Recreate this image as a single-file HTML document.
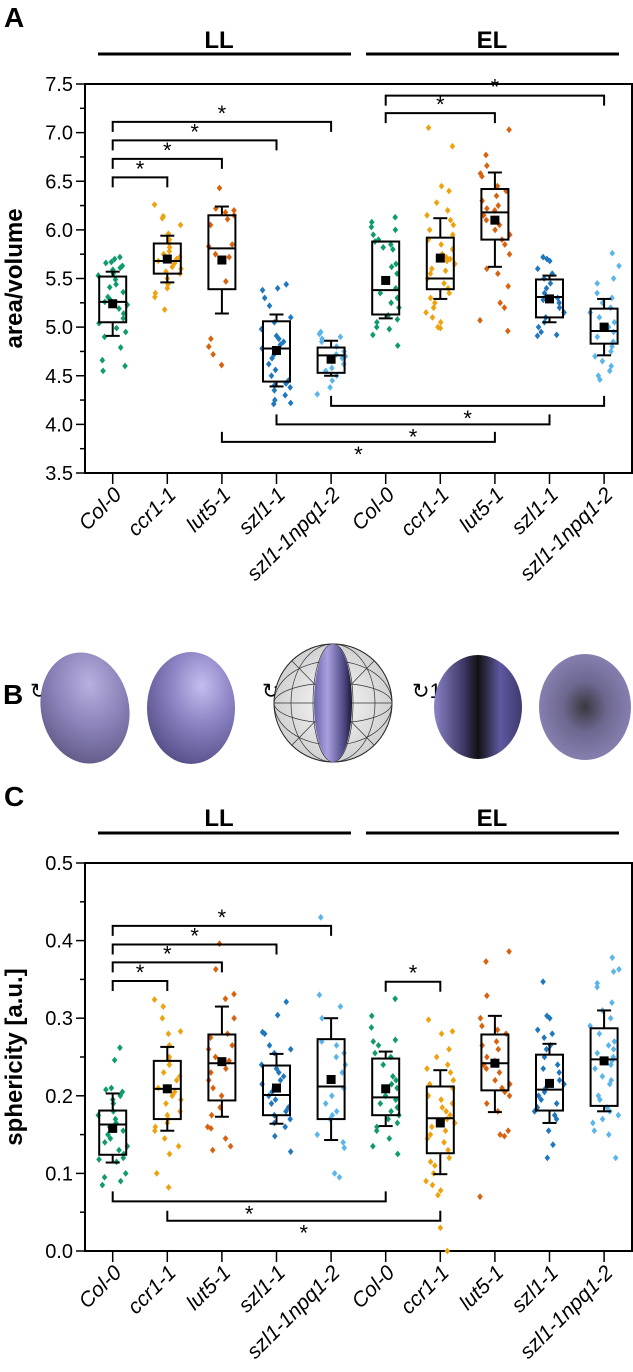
<!DOCTYPE html>
<html><head><meta charset="utf-8"><style>
html,body{margin:0;padding:0;background:#fff;}
svg{display:block;font-family:"Liberation Sans",Arial,sans-serif;}
</style></head><body>
<svg id="fig" width="633" height="1372" viewBox="0 0 633 1372" xmlns="http://www.w3.org/2000/svg">
<defs>
<radialGradient id="gSmooth" cx="0.62" cy="0.3" r="0.8">
<stop offset="0" stop-color="#c4bdf0"/><stop offset="0.45" stop-color="#8a82c2"/><stop offset="1" stop-color="#4e4880"/></radialGradient>
<radialGradient id="gRough" cx="0.6" cy="0.3" r="0.8">
<stop offset="0" stop-color="#b8b0e0"/><stop offset="0.5" stop-color="#8a82b8"/><stop offset="1" stop-color="#5a5480"/></radialGradient>
<linearGradient id="gDark" x1="0" x2="1" y1="0" y2="0">
<stop offset="0" stop-color="#8a82c8"/><stop offset="0.35" stop-color="#3a3660"/><stop offset="0.5" stop-color="#111"/><stop offset="0.75" stop-color="#5e58a0"/><stop offset="1" stop-color="#40396e"/></linearGradient>
<radialGradient id="gRough2" cx="0.5" cy="0.5" r="0.6">
<stop offset="0" stop-color="#3a3840"/><stop offset="0.4" stop-color="#6d6890"/><stop offset="1" stop-color="#8f88bb"/></radialGradient>
<radialGradient id="gSphere" cx="0.5" cy="0.5" r="0.6">
<stop offset="0" stop-color="#fafafa"/><stop offset="1" stop-color="#c8c8c8"/></radialGradient>
<linearGradient id="gBand" x1="0" x2="1">
<stop offset="0" stop-color="#6a63a8"/><stop offset="0.35" stop-color="#a9a0e0"/><stop offset="0.8" stop-color="#4b4680"/><stop offset="1" stop-color="#1a1830"/></linearGradient>
</defs>

<text x="4" y="27" font-size="28" font-weight="bold">A</text>
<text x="219" y="48" font-size="24" font-weight="bold" text-anchor="middle">LL</text>
<line x1="98" y1="54" x2="351" y2="54" stroke="#000" stroke-width="3"/>
<text x="492" y="48" font-size="24" font-weight="bold" text-anchor="middle">EL</text>
<line x1="366" y1="54" x2="619" y2="54" stroke="#000" stroke-width="3"/>
<g id="chartA"></g>

<g>
<text x="3" y="704" font-size="28" font-weight="bold">B</text>
<text x="30" y="698" font-size="21">↻45°</text>
<text x="262" y="698" font-size="21">↻90°</text>
<text x="412" y="698" font-size="21">↻135°</text>
<ellipse cx="85" cy="708" rx="44" ry="56" fill="url(#gRough)" transform="rotate(-12 85 708)"/>
<ellipse cx="191" cy="708" rx="44" ry="56" fill="url(#gSmooth)"/>
<g>
<circle cx="333" cy="703" r="59" fill="url(#gSphere)" stroke="#222" stroke-width="1"/>
<g stroke="#333" stroke-width="0.7" fill="none">
<ellipse cx="333" cy="703" rx="59" ry="20"/><ellipse cx="333" cy="703" rx="59" ry="42"/>
<ellipse cx="333" cy="703" rx="20" ry="59"/><ellipse cx="333" cy="703" rx="42" ry="59"/>
<line x1="274" y1="703" x2="392" y2="703"/><line x1="292" y1="661" x2="374" y2="745"/><line x1="292" y1="745" x2="374" y2="661"/>
</g>
<ellipse cx="333" cy="703" rx="19" ry="59" fill="url(#gBand)"/>
</g>
<ellipse cx="478" cy="707" rx="44" ry="52" fill="url(#gDark)"/>
<ellipse cx="585" cy="707" rx="46" ry="53" fill="url(#gRough2)"/>
</g>

<text x="4" y="806" font-size="28" font-weight="bold">C</text>
<text x="219" y="826" font-size="24" font-weight="bold" text-anchor="middle">LL</text>
<line x1="98" y1="833" x2="351" y2="833" stroke="#000" stroke-width="3"/>
<text x="492" y="826" font-size="24" font-weight="bold" text-anchor="middle">EL</text>
<line x1="366" y1="833" x2="619" y2="833" stroke="#000" stroke-width="3"/>
<g id="chartC"></g>
</svg>
<script>
const categories = ["Col-0","ccr1-1","lut5-1","szl1-1","szl1-1npq1-2","Col-0","ccr1-1","lut5-1","szl1-1","szl1-1npq1-2"];
const groupColors = ["#0f9b6e","#eea20d","#d9620f","#1f78bd","#5ab6ea","#0f9b6e","#eea20d","#d9620f","#1f78bd","#5ab6ea"];

const aTicks = [3.5,4.0,4.5,5.0,5.5,6.0,6.5,7.0,7.5];
const aTickLabels = ["3.5","4.0","4.5","5.0","5.5","6.0","6.5","7.0","7.5"];
const aBoxLow = [5.05,5.55,5.39,4.44,4.53,5.13,5.39,5.90,5.10,4.83];
const aBoxHigh = [5.52,5.86,6.15,5.06,4.79,5.88,5.92,6.42,5.49,5.19];
const aMedian = [5.26,5.68,5.81,4.78,4.71,5.38,5.50,6.18,5.31,4.96];
const aMean = [5.24,5.70,5.69,4.76,4.67,5.48,5.71,6.10,5.29,5.00];
const aWhiskLow = [4.91,5.46,5.14,4.39,4.50,5.09,5.29,5.62,5.05,4.71];
const aWhiskHigh = [5.57,5.94,6.24,5.13,4.86,5.88,6.12,6.59,5.53,5.29];
const aPoints = [
[5.72,5.70,5.67,5.66,5.63,5.61,5.59,5.57,5.55,5.53,5.49,5.44,5.41,5.36,5.31,5.28,5.26,5.23,5.19,5.14,5.09,5.04,4.99,4.95,4.90,4.79,4.66,4.60,4.55],
[6.26,6.14,6.12,6.05,5.96,5.90,5.86,5.82,5.78,5.75,5.72,5.70,5.68,5.66,5.62,5.60,5.57,5.55,5.50,5.44,5.40,5.35,5.31,5.18],
[6.43,6.22,6.20,6.18,6.15,6.11,6.05,5.85,5.83,5.75,5.72,5.47,4.88,4.80,4.72,4.61],
[5.44,5.40,5.38,5.30,5.22,5.10,5.05,4.98,4.91,4.88,4.85,4.82,4.78,4.72,4.68,4.62,4.56,4.50,4.45,4.42,4.40,4.38,4.35,4.30,4.25,4.22,4.21],
[4.95,4.93,4.90,4.88,4.85,4.80,4.75,4.72,4.70,4.68,4.65,4.62,4.58,4.55,4.50,4.45,4.38,4.31],
[6.13,6.08,6.03,6.00,5.95,5.90,5.88,5.85,5.82,5.80,5.65,5.62,5.55,5.48,5.40,5.35,5.30,5.25,5.20,5.12,5.08,5.05,5.00,4.98,4.92,4.81],
[7.05,6.86,6.45,6.40,6.28,6.20,6.15,6.10,6.05,6.00,5.95,5.90,5.85,5.80,5.75,5.72,5.70,5.68,5.65,5.60,5.58,5.55,5.50,5.45,5.40,5.35,5.30,5.25,5.20,5.15,5.10,5.05,5.00,4.99],
[7.03,6.77,6.66,6.58,6.55,6.45,6.40,6.35,6.30,6.25,6.22,6.20,6.15,6.10,6.05,6.00,5.95,5.90,5.85,5.75,5.60,5.55,5.42,5.25,5.20,5.07,4.96],
[5.72,5.70,5.68,5.60,5.55,5.50,5.45,5.40,5.35,5.30,5.28,5.25,5.20,5.15,5.10,5.05,5.00,4.95,4.92,4.91],
[5.76,5.63,5.50,5.45,5.35,5.30,5.25,5.20,5.15,5.10,5.05,5.00,4.95,4.90,4.85,4.80,4.75,4.70,4.65,4.60,4.55,4.50,4.46]
];
const aBrackets = [[0,1,6.54,1],[0,2,6.73,1],[0,3,6.92,1],[0,4,7.11,1],[5,7,7.20,1],[5,9,7.38,1],[4,9,4.19,-1],[3,8,4.00,-1],[2,7,3.82,-1]];

const cTicks = [0.0,0.1,0.2,0.3,0.4,0.5];
const cTickLabels = ["0.0","0.1","0.2","0.3","0.4","0.5"];
const cBoxLow = [0.124,0.170,0.194,0.175,0.170,0.175,0.126,0.207,0.181,0.187];
const cBoxHigh = [0.181,0.245,0.279,0.239,0.273,0.248,0.212,0.279,0.253,0.287];
const cMedian = [0.163,0.209,0.242,0.201,0.212,0.198,0.171,0.242,0.208,0.247];
const cMean = [0.158,0.209,0.244,0.210,0.221,0.209,0.165,0.242,0.216,0.245];
const cWhiskLow = [0.114,0.155,0.173,0.164,0.143,0.161,0.099,0.179,0.165,0.180];
const cWhiskHigh = [0.203,0.263,0.315,0.254,0.300,0.257,0.233,0.303,0.267,0.310];
const cPoints = [
[0.262,0.246,0.21,0.208,0.205,0.20,0.195,0.19,0.18,0.175,0.17,0.165,0.16,0.155,0.15,0.145,0.14,0.135,0.13,0.125,0.12,0.118,0.115,0.10,0.095,0.09,0.085],
[0.324,0.315,0.30,0.283,0.28,0.265,0.25,0.245,0.24,0.23,0.225,0.22,0.21,0.205,0.20,0.195,0.19,0.18,0.175,0.17,0.165,0.16,0.155,0.145,0.135,0.125,0.10,0.082],
[0.396,0.363,0.331,0.325,0.30,0.28,0.275,0.265,0.26,0.25,0.245,0.235,0.23,0.22,0.21,0.20,0.185,0.175,0.16,0.158,0.145,0.135,0.13],
[0.321,0.304,0.282,0.28,0.265,0.26,0.255,0.24,0.235,0.23,0.225,0.22,0.215,0.21,0.205,0.20,0.195,0.19,0.185,0.18,0.175,0.17,0.165,0.16,0.148,0.128],
[0.43,0.33,0.315,0.30,0.27,0.265,0.255,0.25,0.24,0.23,0.22,0.21,0.20,0.19,0.18,0.175,0.17,0.15,0.14,0.133,0.10,0.095],
[0.325,0.303,0.288,0.272,0.27,0.265,0.255,0.25,0.24,0.225,0.22,0.215,0.21,0.20,0.195,0.19,0.185,0.18,0.175,0.17,0.165,0.16,0.155,0.145,0.135,0.125],
[0.298,0.283,0.28,0.26,0.25,0.24,0.235,0.23,0.22,0.215,0.21,0.20,0.195,0.19,0.185,0.18,0.175,0.17,0.165,0.16,0.155,0.15,0.145,0.14,0.13,0.12,0.115,0.11,0.10,0.09,0.085,0.078,0.072,0.03,0.0],
[0.386,0.373,0.329,0.30,0.29,0.285,0.28,0.27,0.265,0.26,0.25,0.245,0.24,0.235,0.23,0.22,0.215,0.21,0.205,0.20,0.19,0.18,0.155,0.15,0.148,0.07],
[0.347,0.303,0.30,0.285,0.28,0.275,0.265,0.26,0.25,0.24,0.235,0.23,0.22,0.215,0.21,0.205,0.20,0.195,0.19,0.185,0.18,0.175,0.17,0.155,0.137,0.12],
[0.378,0.363,0.36,0.345,0.34,0.32,0.31,0.30,0.29,0.28,0.27,0.265,0.26,0.255,0.25,0.245,0.24,0.235,0.225,0.22,0.215,0.2,0.195,0.185,0.18,0.175,0.17,0.165,0.155,0.15,0.12]
];
const cBrackets = [[0,1,0.348,1],[0,2,0.372,1],[0,3,0.395,1],[0,4,0.419,1],[5,6,0.347,1],[0,5,0.064,-1],[1,6,0.039,-1]];

const NS = "http://www.w3.org/2000/svg";
function mk(parent, tag, attrs) {
  const e = document.createElementNS(NS, tag);
  for (const k in attrs) e.setAttribute(k, attrs[k]);
  parent.appendChild(e);
  return e;
}
function hash(a, b) {
  const s = Math.sin(a * 12.9898 + b * 78.233) * 43758.5453;
  return s - Math.floor(s);
}

function drawChart(g, cfg) {
  const L = 85, R = 632, T = cfg.top, B = cfg.bottom;
  const x = i => 112.7 + i * 54.6;
  const y = v => B - (v - cfg.min) / (cfg.max - cfg.min) * (B - T);
  const frame = mk(g, "rect", {x: L, y: T, width: R - L, height: B - T, fill: "none", stroke: "#000", "stroke-width": 2});
  
  
  cfg.ticks.forEach((t, i) => {
    const tk = mk(g, "line", {x1: L - 9, x2: L, y1: y(t), y2: y(t), stroke: "#000", "stroke-width": 1.5});
    
    
    if (i < cfg.ticks.length - 1) {
      const mv = (t + cfg.ticks[i + 1]) / 2;
      const mt = mk(g, "line", {x1: L - 5, x2: L, y1: y(mv), y2: y(mv), stroke: "#000", "stroke-width": 1.5});
      
      
    }
    const lb = mk(g, "text", {x: L - 12, y: y(t) + 7, "font-size": 20, "text-anchor": "end"});
    lb.textContent = cfg.tickLabels[i];
    
    
  });
  const yt = mk(g, "text", {x: 0, y: 0, "font-size": 24, "font-weight": "bold", "text-anchor": "middle", transform: `translate(${cfg.titleX},${(T + B) / 2}) rotate(-90)`});
  yt.textContent = cfg.title;
  
  
  categories.forEach((c, i) => {
    const cx = x(i);
    const tk = mk(g, "line", {x1: cx, x2: cx, y1: B, y2: B + 11, stroke: "#000", "stroke-width": 1.5});
    
    
    const lb = mk(g, "text", {x: 0, y: 0, "font-size": 21, "font-style": "italic", "text-anchor": "end", transform: `translate(${cx + 10},${B + 23}) rotate(-45)`});
    lb.textContent = c;
    
    
  });
  cfg.points.forEach((arr, gi) => {
    arr.forEach((v, j) => {
      const jit = (hash(j + 1, gi + 1) - 0.5) * 30;
      const px = x(gi) + jit, py = y(v);
      const p = mk(g, "path", {d: `M${px} ${py - 3.4}L${px + 2.8} ${py}L${px} ${py + 3.4}L${px - 2.8} ${py}Z`, fill: groupColors[gi]});
      
      
    });
  });
  categories.forEach((c, i) => {
    const cx = x(i);
    const s = {stroke: "#000", "stroke-width": 2, fill: "none"};
    const w1 = mk(g, "line", Object.assign({x1: cx, x2: cx, y1: y(cfg.wh[i]), y2: y(cfg.hi[i])}, s));
    
    
    const w2 = mk(g, "line", Object.assign({x1: cx, x2: cx, y1: y(cfg.lo[i]), y2: y(cfg.wl[i])}, s));
    
    
    const c1 = mk(g, "line", Object.assign({x1: cx - 7, x2: cx + 7, y1: y(cfg.wh[i]), y2: y(cfg.wh[i])}, s));
    
    
    const c2 = mk(g, "line", Object.assign({x1: cx - 7, x2: cx + 7, y1: y(cfg.wl[i]), y2: y(cfg.wl[i])}, s));
    
    
    const bx = mk(g, "rect", Object.assign({x: cx - 13.5, width: 27, y: y(cfg.hi[i]), height: y(cfg.lo[i]) - y(cfg.hi[i])}, s));
    
    
    const md = mk(g, "line", Object.assign({x1: cx - 13.5, x2: cx + 13.5, y1: y(cfg.med[i]), y2: y(cfg.med[i])}, s));
    
    
    const mn = mk(g, "rect", {x: cx - 4.5, y: y(cfg.mean[i]) - 4.5, width: 9, height: 9, fill: "#000"});
    
    
  });
  cfg.brackets.forEach(b => {
    const x1 = x(b[0]), x2 = x(b[1]), ly = y(b[2]), d = b[3] * 10;
    const br = mk(g, "path", {d: `M${x1} ${ly + d}L${x1} ${ly}L${x2} ${ly}L${x2} ${ly + d}`, fill: "none", stroke: "#000", "stroke-width": 2});
    
    
    const st = mk(g, "text", {x: (x1 + x2) / 2, y: b[3] > 0 ? ly - 1 : ly + 20, "font-size": 22, "text-anchor": "middle"});
    st.textContent = "*";
    
    
  });
}

drawChart(document.getElementById("chartA"), {top: 84, bottom: 473, min: 3.5, max: 7.5, ticks: aTicks, tickLabels: aTickLabels, title: "area/volume", titleX: 22,
  points: aPoints, lo: aBoxLow, hi: aBoxHigh, med: aMedian, mean: aMean, wl: aWhiskLow, wh: aWhiskHigh, brackets: aBrackets});
drawChart(document.getElementById("chartC"), {top: 863, bottom: 1251, min: 0, max: 0.5, ticks: cTicks, tickLabels: cTickLabels, title: "sphericity [a.u.]", titleX: 22,
  points: cPoints, lo: cBoxLow, hi: cBoxHigh, med: cMedian, mean: cMean, wl: cWhiskLow, wh: cWhiskHigh, brackets: cBrackets});
</script>
</body></html>
